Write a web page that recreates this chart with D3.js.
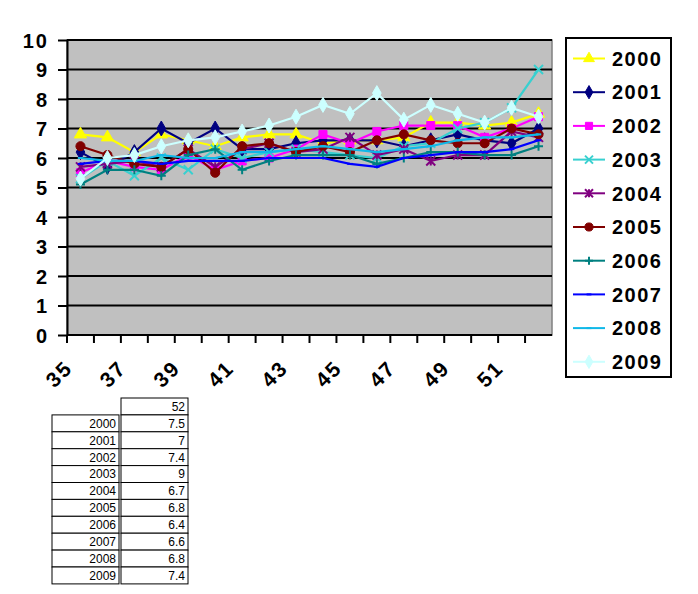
<!DOCTYPE html>
<html>
<head>
<meta charset="utf-8">
<script src="https://cdn.jsdelivr.net/npm/d3@7"></script>
<style>
  body { margin: 0; background: #fff; }
  svg text { font-family: "Liberation Sans", Arial, sans-serif; }
</style>
</head>
<body>
<div id="chart"></div>
<script>
// categories along the bottom
var categories = ["35","36","37","38","39","40","41","42","43","44","45","46","47","48","49","50","51","52"];
var yTicks = [0,1,2,3,4,5,6,7,8,9,10];
var seriesNames = ["2000","2001","2002","2003","2004","2005","2006","2007","2008","2009"];

// values (35 .. 52)
var s2000 = [6.8,6.7,6.2,6.8,6.6,6.4,6.7,6.8,6.8,6.5,6.6,6.6,6.7,7.2,7.2,7.1,7.2,7.5];
var s2001 = [6.2,5.7,6.2,7.0,6.5,7.0,6.3,6.3,6.5,6.6,6.6,6.6,6.4,6.6,6.8,6.6,6.5,7.0];
var s2002 = [5.5,5.9,5.7,5.6,6.1,5.6,5.9,6.0,6.3,6.8,6.5,6.9,7.1,7.1,7.1,6.7,7.0,7.4];
var s2003 = [5.3,5.9,5.4,6.0,5.6,6.3,6.0,6.2,6.3,6.2,6.1,6.0,6.4,6.5,7.0,7.2,7.7,9.0];
var s2004 = [5.7,5.8,5.9,5.7,6.3,5.7,6.3,6.5,6.2,6.3,6.7,6.1,6.3,5.9,6.1,6.1,6.9,6.7];
var s2005 = [6.4,6.1,5.8,5.7,6.3,5.5,6.4,6.5,6.2,6.4,6.2,6.6,6.8,6.6,6.5,6.5,7.0,6.8];
var s2006 = [5.1,5.6,5.6,5.4,6.1,6.3,5.6,5.9,6.1,6.1,6.1,5.8,6.0,6.2,6.2,6.1,6.1,6.4];
var s2007 = [5.8,5.9,5.9,5.8,5.9,5.9,5.9,6.0,6.0,6.0,5.8,5.7,6.0,6.1,6.2,6.2,6.3,6.6];
var s2008 = [6.0,5.9,5.9,6.1,6.0,6.0,6.2,6.2,6.3,6.4,6.3,6.2,6.3,6.4,6.6,6.7,6.7,6.8];
var s2009 = [5.3,6.0,6.1,6.4,6.6,6.7,6.9,7.1,7.4,7.8,7.5,8.2,7.3,7.8,7.5,7.2,7.7,7.4];

var colors = ["#ffff00","#000080","#ff00ff","#38d0d0","#800080","#800000","#008080","#0000ff","#10b8e8","#ccffff"];
var markers = ["triangle","diamond","square","x","asterisk","circle","plus","dash","dash","diamond"];

var allSeries = [s2000,s2001,s2002,s2003,s2004,s2005,s2006,s2007,s2008,s2009];

var width = 698, height = 594;
var plot = {left: 67, right: 552, top: 40, bottom: 335};

var svg = d3.select("#chart").append("svg").attr("width", width).attr("height", height);

var x = d3.scaleBand().domain(categories).range([plot.left, plot.right]);
var y = d3.scaleLinear().domain([0, 10]).range([plot.bottom, plot.top]);

// plot area
svg.append("rect").attr("x", plot.left).attr("y", plot.top)
  .attr("width", plot.right - plot.left).attr("height", plot.bottom - plot.top)
  .attr("fill", "#c0c0c0").attr("stroke", "#808080").attr("stroke-width", 1.5);

// gridlines
svg.append("g").selectAll("line").data(yTicks.filter(function(d) { return d > 0; })).enter().append("line")
  .attr("x1", plot.left).attr("x2", plot.right)
  .attr("y1", function(d) { return y(d); }).attr("y2", function(d) { return y(d); })
  .attr("stroke", "#000").attr("stroke-width", 2);

// y axis
var yAxis = svg.append("g").attr("transform", "translate(" + plot.left + ",0)")
  .call(d3.axisLeft(y).tickValues(yTicks).tickSize(9).tickPadding(9).tickSizeOuter(0));
yAxis.select(".domain").attr("stroke", "#000").attr("stroke-width", 2);
yAxis.selectAll(".tick line").attr("stroke", "#000").attr("stroke-width", 2);
yAxis.selectAll(".tick text").attr("font-size", 20).attr("font-weight", "bold")
  .attr("fill", "#000").attr("letter-spacing", 2).attr("dy", "0.36em");

// x axis line + tick marks at category boundaries
svg.append("line").attr("x1", plot.left).attr("x2", plot.right)
  .attr("y1", plot.bottom).attr("y2", plot.bottom).attr("stroke", "#000").attr("stroke-width", 2);
svg.append("g").selectAll("line").data(categories).enter().append("line")
  .attr("x1", function(d) { return x(d); }).attr("x2", function(d) { return x(d); })
  .attr("y1", plot.bottom).attr("y2", plot.bottom + 8)
  .attr("stroke", "#000").attr("stroke-width", 2);

// x labels, every other category, rotated
svg.append("g").selectAll("text").data(categories.filter(function(d, i) { return i % 2 == 0 && i < 17; }))
  .enter().append("text")
  .attr("transform", function(d) {
    return "translate(" + (x(d) + x.bandwidth() / 2 - 17) + "," + 359 + ") rotate(-45)";
  })
  .attr("text-anchor", "end").attr("dy", "0.7em")
  .attr("font-size", 21).attr("font-weight", "bold").attr("letter-spacing", 2)
  .text(function(d) { return d; });

function markerPath(type, size) {
  var h = size / 2;
  if (type == "x") return "M" + (-h) + "," + (-h) + "L" + h + "," + h + "M" + (-h) + "," + h + "L" + h + "," + (-h);
  if (type == "plus") return "M" + (-h) + ",0L" + h + ",0M0," + (-h) + "L0," + h;
  if (type == "asterisk") return "M" + (-h) + "," + (-h) + "L" + h + "," + h + "M" + (-h) + "," + h + "L" + h + "," + (-h) + "M0," + (-h) + "L0," + h;
  if (type == "dash") return "M" + (-h * 0.6) + ",0L" + (h * 0.6) + ",0";
  var sym = {triangle: d3.symbolTriangle, diamond: d3.symbolDiamond, square: d3.symbolSquare, circle: d3.symbolCircle}[type];
  return d3.symbol().type(sym).size(size * size * 0.8)();
}
function strokeMarker(type) { return type == "x" || type == "plus" || type == "asterisk" || type == "dash"; }

var line = d3.line()
  .x(function(d, i) { return x(categories[i]) + x.bandwidth() / 2; })
  .y(function(d) { return y(d); });

allSeries.forEach(function(vals, si) {
  var g = svg.append("g");
  g.append("path").datum(vals).attr("d", line).attr("fill", "none")
    .attr("stroke", colors[si]).attr("stroke-width", 2.2);
  g.selectAll("path.m").data(vals).enter().append("path").attr("class", "m")
    .attr("transform", function(d, i) {
      return "translate(" + (x(categories[i]) + x.bandwidth() / 2) + "," + y(d) + ")";
    })
    .attr("d", markerPath(markers[si], 9))
    .attr("fill", strokeMarker(markers[si]) ? "none" : colors[si])
    .attr("stroke", colors[si]).attr("stroke-width", strokeMarker(markers[si]) ? 2 : 1);
});

// legend
var lg = svg.append("g");
lg.append("rect").attr("x", 566).attr("y", 38).attr("width", 105).attr("height", 339)
  .attr("fill", "#fff").attr("stroke", "#000").attr("stroke-width", 2);
var items = lg.selectAll("g.item").data(seriesNames).enter().append("g").attr("class", "item")
  .attr("transform", function(d, i) { return "translate(0," + (58.5 + i * 33.7) + ")"; });
items.append("line").attr("x1", 573).attr("x2", 605).attr("y1", 0).attr("y2", 0)
  .attr("stroke", function(d, i) { return colors[i]; }).attr("stroke-width", 2);
items.append("path").attr("transform", "translate(589,0)")
  .attr("d", function(d, i) { return markerPath(markers[i], 8); })
  .attr("fill", function(d, i) { return strokeMarker(markers[i]) ? "none" : colors[i]; })
  .attr("stroke", function(d, i) { return colors[i]; })
  .attr("stroke-width", function(d, i) { return strokeMarker(markers[i]) ? 2 : 1; });
items.append("text").attr("x", 612).attr("dy", "0.36em")
  .attr("font-size", 20).attr("font-weight", "bold").attr("letter-spacing", 1.5)
  .text(function(d) { return d; });

// data table (value at the last category)
var last = categories[categories.length - 1];
var tbl = svg.append("g").attr("font-size", 12);
var rowH = 16.9, tTop = 398, colL = 52, colM = 121, colR = 188;
tbl.append("rect").attr("x", colM).attr("y", tTop).attr("width", colR - colM).attr("height", rowH)
  .attr("fill", "#fff").attr("stroke", "#000");
tbl.append("text").attr("x", colR - 3).attr("y", tTop + rowH - 4).attr("text-anchor", "end").text(last);
var rows = tbl.selectAll("g.row").data(seriesNames).enter().append("g").attr("class", "row")
  .attr("transform", function(d, i) { return "translate(0," + (tTop + rowH * (i + 1)) + ")"; });
rows.append("rect").attr("x", colL).attr("width", colM - colL - 2).attr("height", rowH)
  .attr("fill", "#fff").attr("stroke", "#000");
rows.append("rect").attr("x", colM).attr("width", colR - colM).attr("height", rowH)
  .attr("fill", "#fff").attr("stroke", "#000");
rows.append("text").attr("x", colM - 5).attr("y", rowH - 4).attr("text-anchor", "end").text(function(d) { return d; });
rows.append("text").attr("x", colR - 3).attr("y", rowH - 4).attr("text-anchor", "end")
  .text(function(d, i) { return allSeries[i][allSeries[i].length - 1]; });
</script>
</body>
</html>
